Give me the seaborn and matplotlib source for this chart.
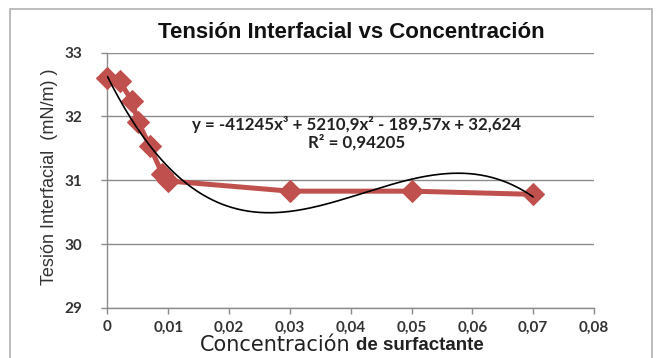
import numpy as np
import pandas as pd
import seaborn as sns
import matplotlib
matplotlib.use("Agg")
import matplotlib.pyplot as plt
from matplotlib.patches import Rectangle

# ---- data ----
concentracion = [0.0, 0.002, 0.004, 0.005, 0.007, 0.009, 0.010, 0.030, 0.050, 0.070]
tension = [32.60, 32.55, 32.25, 31.92, 31.53, 31.10, 30.99, 30.83, 30.83, 30.78]
trend_coefs = [-41245, 5210.9, -189.57, 32.624]  # cubic trendline (Excel)
x_ticks = [0, 0.01, 0.02, 0.03, 0.04, 0.05, 0.06, 0.07, 0.08]
x_tick_labels = ["0", "0,01", "0,02", "0,03", "0,04", "0,05", "0,06", "0,07", "0,08"]
y_ticks = [29, 30, 31, 32, 33]

title = "Tensión Interfacial vs Concentración"
ylabel = "Tesión Interfacial  (mN/m) )"
eq_text = "y = -41245x³ + 5210,9x² - 189,57x + 32,624"
r2_text = "R² = 0,94205"

sns.set_theme(style="white")
plt.rcParams["font.family"] = ["Liberation Sans", "DejaVu Sans"]

df = pd.DataFrame({"x": concentracion, "y": tension})
xt = np.linspace(min(concentracion), max(concentracion), 300)
df_trend = pd.DataFrame({"x": xt, "y": np.polyval(trend_coefs, xt)})

fig = plt.figure(figsize=(6.57, 3.58), dpi=100)
ax = fig.add_axes([0.1636, 0.1397, 0.7404, 0.7133])

red = "#C0504D"
sns.lineplot(data=df, x="x", y="y", ax=ax, color=red, linewidth=3.6,
             marker="D", markersize=11, markeredgecolor=red, zorder=3,
             clip_on=False)
sns.lineplot(data=df_trend, x="x", y="y", ax=ax, color="black", linewidth=1.2, zorder=4)

ax.set_xlim(0, 0.08)
ax.set_ylim(29, 33)
ax.set_xticks(x_ticks)
ax.set_xticklabels(x_tick_labels)
ax.set_yticks(y_ticks)
ax.set_yticklabels([str(v) for v in y_ticks])
ax.grid(axis="y", color="#8c8c8c", linewidth=1.0)
ax.grid(axis="x", visible=False)
ax.set_axisbelow(True)
for s in ["top", "right"]:
    ax.spines[s].set_visible(False)
for s in ["left", "bottom"]:
    ax.spines[s].set_color("#8c8c8c")
    ax.spines[s].set_linewidth(1.0)
ax.tick_params(axis="x", which="major", length=4, width=1, color="#8c8c8c",
               direction="out", bottom=True, pad=5)
ax.tick_params(axis="y", which="major", length=4, width=1, color="#8c8c8c",
               direction="out", left=True, pad=14)
for lab in ax.get_xticklabels() + ax.get_yticklabels():
    lab.set_fontfamily(["Lato", "DejaVu Sans"])
    lab.set_fontweight("bold")
    lab.set_fontsize(11)
    lab.set_color("#333333")
ax.set_xlabel("")
ax.set_ylabel("")

# Texts
fig.text(0.535, 0.908, title, ha="center", va="center", fontsize=16,
         fontweight="bold", color="#111111")
fig.text(0.075, 0.505, ylabel, ha="center", va="center", rotation=90,
         fontsize=13, color="#333333", family=["Liberation Sans", "DejaVu Sans"])
ax.text(0.041, 31.87, eq_text, ha="center", va="center", fontsize=12.2,
        fontweight="bold", color="#222222", family=["Lato", "DejaVu Sans"])
ax.text(0.041, 31.59, r2_text, ha="center", va="center", fontsize=12.2,
        fontweight="bold", color="#222222", family=["Lato", "DejaVu Sans"])

# x label: "Concentración" normal + "de surfactante" bold
fig.text(0.533, 0.036, "Concentración", ha="right", va="center",
         fontsize=15, color="#222222", family=["DejaVu Sans"])
fig.text(0.542, 0.036, "de surfactante", ha="left", va="center",
         fontsize=13.5, color="#222222", fontweight="bold",
         family=["Liberation Sans", "DejaVu Sans"])

# chart frame
fig.patches.append(Rectangle((0.015, -0.02), 0.977, 0.995, transform=fig.transFigure,
                             fill=False, edgecolor="#b0b0b0", linewidth=1.2))

fig.savefig("out.png", dpi=100, facecolor="white")
